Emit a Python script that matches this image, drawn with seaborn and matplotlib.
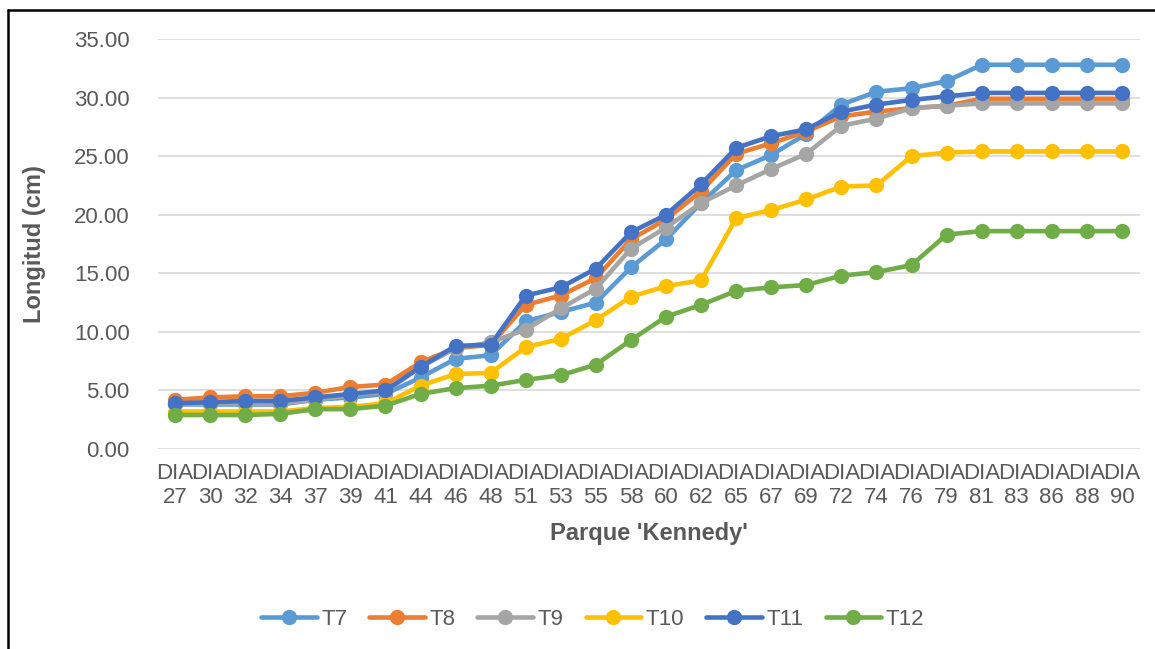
import matplotlib
matplotlib.use("Agg")
import matplotlib.pyplot as plt
from matplotlib.lines import Line2D
from matplotlib.ticker import FormatStrFormatter
import pandas as pd
import seaborn as sns

# Days after sowing (Parque 'Kennedy')
dias = [27, 30, 32, 34, 37, 39, 41, 44, 46, 48, 51, 53, 55, 58,
        60, 62, 65, 67, 69, 72, 74, 76, 79, 81, 83, 86, 88, 90]

# Length (cm) per treatment
t7 = [3.8, 3.8, 3.8, 3.8, 4.2, 4.4, 4.7, 6.1, 7.7, 8.0, 10.9, 11.7, 12.5, 15.5,
      17.9, 21.0, 23.8, 25.1, 26.9, 29.4, 30.5, 30.8, 31.4, 32.8, 32.8, 32.8, 32.8, 32.8]
t8 = [4.2, 4.4, 4.5, 4.5, 4.8, 5.3, 5.5, 7.4, 8.6, 8.9, 12.3, 13.1, 14.6, 17.9,
      19.6, 22.0, 25.2, 26.1, 27.1, 28.4, 28.8, 29.1, 29.3, 29.9, 29.9, 29.9, 29.9, 29.9]
t9 = [3.8, 3.9, 3.9, 3.9, 4.2, 4.6, 4.9, 7.0, 8.6, 9.1, 10.2, 12.0, 13.7, 17.1,
      18.9, 21.0, 22.5, 23.9, 25.2, 27.6, 28.2, 29.1, 29.3, 29.5, 29.5, 29.5, 29.5, 29.5]
t10 = [3.2, 3.2, 3.2, 3.2, 3.5, 3.6, 3.9, 5.4, 6.4, 6.5, 8.7, 9.4, 11.0, 13.0,
       13.9, 14.4, 19.7, 20.4, 21.3, 22.4, 22.5, 25.0, 25.3, 25.4, 25.4, 25.4, 25.4, 25.4]
t11 = [3.9, 4.0, 4.1, 4.1, 4.4, 4.7, 5.0, 7.0, 8.8, 8.9, 13.1, 13.8, 15.4, 18.5,
       20.0, 22.6, 25.7, 26.7, 27.3, 28.8, 29.4, 29.8, 30.1, 30.4, 30.4, 30.4, 30.4, 30.4]
t12 = [2.9, 2.9, 2.9, 3.0, 3.4, 3.4, 3.7, 4.7, 5.2, 5.4, 5.9, 6.3, 7.2, 9.3,
       11.3, 12.3, 13.5, 13.8, 14.0, 14.8, 15.1, 15.7, 18.3, 18.6, 18.6, 18.6, 18.6, 18.6]

series_names = ["T7", "T8", "T9", "T10", "T11", "T12"]
series_values = [t7, t8, t9, t10, t11, t12]
colors = ["#5B9BD5", "#ED7D31", "#A5A5A5", "#FFC000", "#4472C4", "#70AD47"]

labels = [f"DIA\n{d}" for d in dias]
rows = []
for name, vals in zip(series_names, series_values):
    for lab, v in zip(labels, vals):
        rows.append({"dia": lab, "longitud": v, "serie": name})
df = pd.DataFrame(rows)

sns.set_theme(style="white")
plt.rcParams["font.family"] = ["Liberation Sans Narrow", "Liberation Sans", "DejaVu Sans"]
text_color = "#595959"
fs = 16

fig = plt.figure(figsize=(11.55, 6.49), dpi=100)
ax = fig.add_axes([157.5 / 1155, 1 - 449 / 649, 982 / 1155, 410 / 649])

sns.lineplot(data=df, x="dia", y="longitud", hue="serie", hue_order=series_names,
             palette=colors, sort=False, marker="o", markersize=11,
             markeredgewidth=0, linewidth=3.3, ax=ax, legend=True)

ax.set_xlim(-0.5, len(dias) - 0.5)
ax.set_ylim(0, 35)
ax.set_yticks(range(0, 36, 5))
ax.yaxis.set_major_formatter(FormatStrFormatter("%.2f"))
ax.grid(axis="y", color="#D9D9D9", linewidth=1.2)
ax.grid(axis="x", visible=False)
ax.set_axisbelow(True)
for s in ax.spines.values():
    s.set_visible(False)
ax.tick_params(axis="both", length=0, labelsize=fs, colors=text_color)
ax.tick_params(axis="y", pad=20)
ax.tick_params(axis="x", pad=10)
ax.set_xlabel("Parque 'Kennedy'", fontsize=fs + 1, fontweight="bold",
              color=text_color, labelpad=10)
ax.set_ylabel("Longitud (cm)", fontsize=fs + 1, fontweight="bold",
              color=text_color, labelpad=20)

handles, leg_labels = ax.get_legend_handles_labels()
ax.get_legend().remove()
fig.legend(handles, leg_labels, loc="center", bbox_to_anchor=(0.513, 0.046),
           ncol=6, frameon=False, fontsize=fs, labelcolor=text_color,
           handlelength=2.5, handletextpad=0.2, columnspacing=1.0)

# Outer frame (left and top edges)
fig.add_artist(Line2D([7.5 / 1155, 7.5 / 1155], [0, 1 - 10 / 649],
                      transform=fig.transFigure, color="black", linewidth=1.8))
fig.add_artist(Line2D([7.5 / 1155, 1], [1 - 10 / 649, 1 - 10 / 649],
                      transform=fig.transFigure, color="black", linewidth=1.8))

fig.savefig("out.png", dpi=100, facecolor="white")
